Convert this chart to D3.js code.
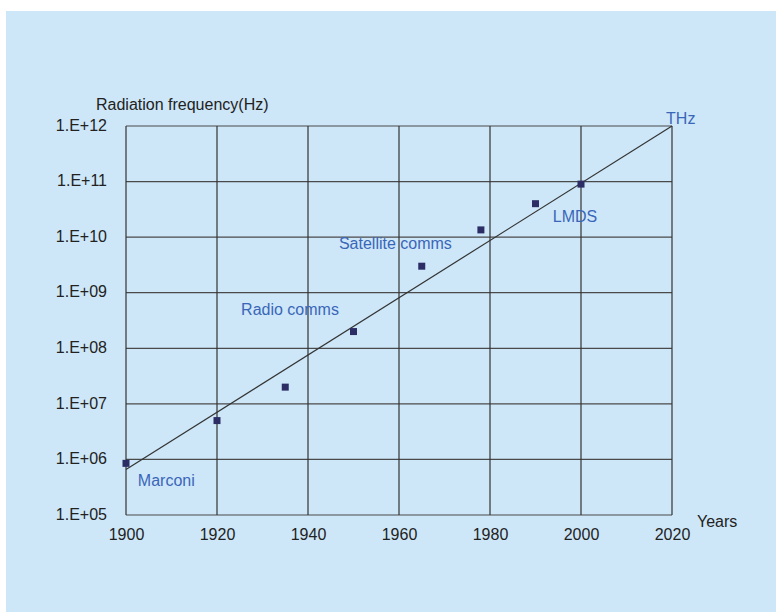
<!DOCTYPE html>
<html>
<head>
<meta charset="utf-8">
<script src="https://cdn.jsdelivr.net/npm/d3@7/dist/d3.min.js"></script>
<style>
  html, body { margin: 0; padding: 0; background: #ffffff; }
  svg { display: block; }
  text { font-family: "Liberation Sans", Arial, sans-serif; }
</style>
</head>
<body>
<script>
// Milestones in radiation frequency used for communications
const years = [1900, 1920, 1935, 1950, 1965, 1978, 1990, 2000];
const frequencies = [8.5e5, 5e6, 2e7, 2e8, 3e9, 1.35e10, 4e10, 9e10];

// Exponential trend towards the terahertz band
const trendYears = [1900, 2020];
const trendFrequencies = [6.6e5, 1e12];

// Axis ticks
const xTicks = [1900, 1920, 1940, 1960, 1980, 2000, 2020];
const yTicks = [1e5, 1e6, 1e7, 1e8, 1e9, 1e10, 1e11, 1e12];

// Annotations, anchored in data units (year, frequency at text baseline)
const noteTexts = ["Marconi", "Radio comms", "Satellite comms", "LMDS", "THz"];
const noteYears = [1902.6, 1925.3, 1946.8, 1993.8, 2018.7];
const noteFrequencies = [3.3e5, 3.9e8, 6e9, 1.84e10, 1.1e12];

const W = 776, H = 612;
const FS = 16;
const svg = d3.select("body").append("svg").attr("width", W).attr("height", H);

// light blue panel
svg.append("rect").attr("x", 6).attr("y", 11).attr("width", W - 6).attr("height", H - 11)
  .attr("fill", "#cde7f8");

const x = d3.scaleLinear().domain([1900, 2020]).range([126, 672]);
const y = d3.scaleLog().domain([1e5, 1e12]).range([515, 126]);

const grid = svg.append("g");
grid.selectAll("line.h").data(yTicks).join("line")
  .attr("x1", x(1900)).attr("x2", x(2020))
  .attr("y1", d => y(d)).attr("y2", d => y(d))
  .attr("stroke", "#4a4a4a").attr("stroke-width", 1.2);
grid.selectAll("line.v").data(xTicks).join("line")
  .attr("x1", d => x(d)).attr("x2", d => x(d))
  .attr("y1", y(1e12)).attr("y2", y(1e5))
  .attr("stroke", "#333").attr("stroke-width", 1.2);

// axes (labels only; grid carries the lines)
const fmt = d => "1.E+" + String(Math.round(Math.log10(d))).padStart(2, "0");
const yAxis = svg.append("g").attr("transform", `translate(${x(1900)},0)`)
  .call(d3.axisLeft(y).tickValues(yTicks).tickFormat(fmt).tickSize(0).tickPadding(19));
const xAxis = svg.append("g").attr("transform", `translate(0,${y(1e5)})`)
  .call(d3.axisBottom(x).tickValues(xTicks).tickFormat(d3.format("d")).tickSize(0).tickPadding(14));
[yAxis, xAxis].forEach(a => {
  a.select(".domain").remove();
  a.selectAll("text").attr("font-size", FS).attr("fill", "#222")
    .attr("font-family", "Liberation Sans, Arial, sans-serif");
});
yAxis.selectAll("text").attr("dy", "0.26em");

// axis titles
svg.append("text").attr("x", 96).attr("y", 110).attr("font-size", FS).attr("fill", "#222")
  .text("Radiation frequency(Hz)");
svg.append("text").attr("x", 697).attr("y", 527).attr("font-size", FS).attr("fill", "#222")
  .text("Years");

// trend line
const line = d3.line().x(d => x(d[0])).y(d => y(d[1]));
svg.append("path").datum(d3.zip(trendYears, trendFrequencies))
  .attr("d", line).attr("fill", "none").attr("stroke", "#333").attr("stroke-width", 1.2);

// data markers
const s = 7;
svg.selectAll("rect.pt").data(d3.zip(years, frequencies)).join("rect")
  .attr("x", d => x(d[0]) - s / 2).attr("y", d => y(d[1]) - s / 2)
  .attr("width", s).attr("height", s).attr("fill", "#2d2d66");

// annotations
svg.selectAll("text.note").data(d3.zip(noteTexts, noteYears, noteFrequencies)).join("text")
  .attr("x", d => x(d[1])).attr("y", d => y(d[2]))
  .attr("font-size", FS).attr("fill", "#3a66b8")
  .text(d => d[0]);
</script>
</body>
</html>
